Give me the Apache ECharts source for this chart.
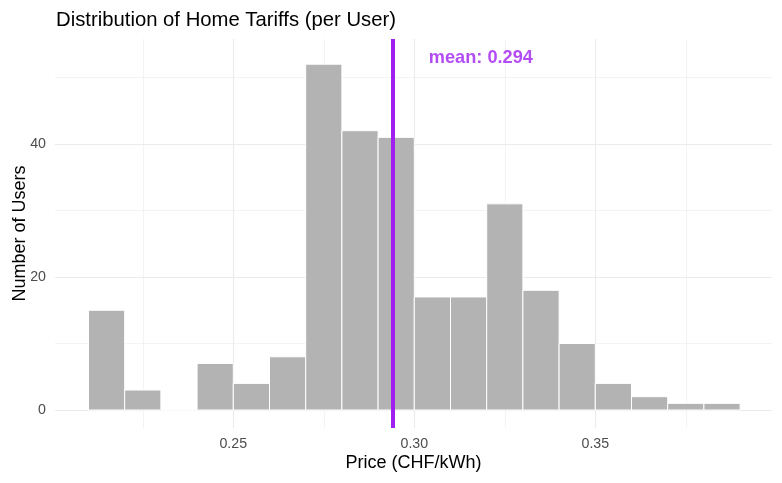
<!DOCTYPE html>
<html>
<head>
<meta charset="utf-8">
<script src="https://cdn.jsdelivr.net/npm/echarts@6/dist/echarts.min.js"></script>
<style>html,body{margin:0;padding:0;background:#fff}#c{width:782px;height:483px}</style>
</head>
<body>
<div id="c"></div>
<script>
// Histogram bins (left edges, bin width 0.01) and counts
var binStarts = [0.21,0.22,0.23,0.24,0.25,0.26,0.27,0.28,0.29,0.30,0.31,0.32,0.33,0.34,0.35,0.36,0.37,0.38];
var binWidth = 0.01;
var counts = [15,3,0,7,4,8,52,42,41,17,17,31,18,10,4,2,1,1];
var meanValue = 0.294;
var meanLabelPos = [0.304, 53];
var meanLabelText = 'mean: 0.294';
var xTickLabels = [0.25, 0.30, 0.35];
var xMinorGrid = [0.225, 0.275, 0.325, 0.375];
var yTickLabels = [0, 20, 40];
var yMinorGrid = [10, 30, 50];
var xRange = [0.20075, 0.39881];
var yRange = [-2.71, 55.79];

var histData = binStarts.map(function (s, i) { return [s, s + binWidth, counts[i]]; });

var gridLines = [];
xTickLabels.forEach(function (v) { gridLines.push({ xAxis: v, lineStyle: { width: 1.1 } }); });
xMinorGrid.forEach(function (v) { gridLines.push({ xAxis: v, lineStyle: { width: 0.6 } }); });
yTickLabels.forEach(function (v) { gridLines.push({ yAxis: v, lineStyle: { width: 1.1 } }); });
yMinorGrid.forEach(function (v) { gridLines.push({ yAxis: v, lineStyle: { width: 0.6 } }); });

var chart = echarts.init(document.getElementById('c'), null, { renderer: 'canvas' });
var font = 'Liberation Sans, Arial, sans-serif';
chart.setOption({
  animation: false,
  textStyle: { fontFamily: font },
  title: {
    text: 'Distribution of Home Tariffs (per User)',
    left: 56, top: 10, padding: 0,
    textStyle: { fontSize: 20.3, fontWeight: 'normal', color: '#000', fontFamily: font }
  },
  grid: { left: 55, right: 10, top: 39, bottom: 55, containLabel: false, outerBoundsMode: 'none' },
  xAxis: {
    type: 'value', min: xRange[0], max: xRange[1],
    name: 'Price (CHF/kWh)', nameLocation: 'middle', nameGap: 26.5, nameMoveOverlap: false,
    nameTextStyle: { fontSize: 18, color: '#000', fontFamily: font },
    axisLine: { show: false }, axisTick: { show: false }, splitLine: { show: false },
    axisLabel: {
      customValues: xTickLabels, margin: 9.5, fontSize: 14.2, color: '#4D4D4D', fontFamily: font,
      formatter: function (v) { return v.toFixed(2); }
    }
  },
  yAxis: {
    type: 'value', min: yRange[0], max: yRange[1],
    name: 'Number of Users', nameLocation: 'middle', nameGap: 26, nameMoveOverlap: false,
    nameTextStyle: { fontSize: 18, color: '#000', fontFamily: font },
    axisLine: { show: false }, axisTick: { show: false }, splitLine: { show: false },
    axisLabel: { customValues: yTickLabels, margin: 9, fontSize: 14.2, color: '#4D4D4D', fontFamily: font }
  },
  series: [
    {
      type: 'line', data: [], z: 0, silent: true,
      markLine: {
        silent: true, symbol: 'none', z: 0, animation: false, precision: 6,
        label: { show: false },
        lineStyle: { color: '#EBEBEB', type: 'solid' },
        data: gridLines
      }
    },
    {
      type: 'custom', z: 2,
      renderItem: function (params, api) {
        var p0 = api.coord([api.value(0), 0]);
        var p1 = api.coord([api.value(1), api.value(2)]);
        return {
          type: 'rect',
          shape: { x: p0[0], y: p1[1], width: p1[0] - p0[0], height: p0[1] - p1[1] },
          style: { fill: '#B3B3B3', stroke: '#FFFFFF', lineWidth: 1 }
        };
      },
      encode: { x: [0, 1], y: 2 },
      data: histData
    },
    {
      type: 'line', data: [], z: 10, silent: true,
      markLine: {
        silent: true, symbol: 'none', z: 10, animation: false, precision: 6,
        label: { show: false },
        lineStyle: { color: '#A020F0', width: 4, type: 'solid' },
        data: [{ xAxis: meanValue }]
      }
    },
    {
      type: 'scatter', z: 11, symbolSize: 0, silent: true,
      data: [meanLabelPos],
      label: {
        show: true, position: 'right', distance: 0,
        formatter: meanLabelText,
        fontSize: 18.2, fontWeight: 'bold', color: '#A020F0', fontFamily: font
      }
    }
  ]
});
</script>
</body>
</html>
